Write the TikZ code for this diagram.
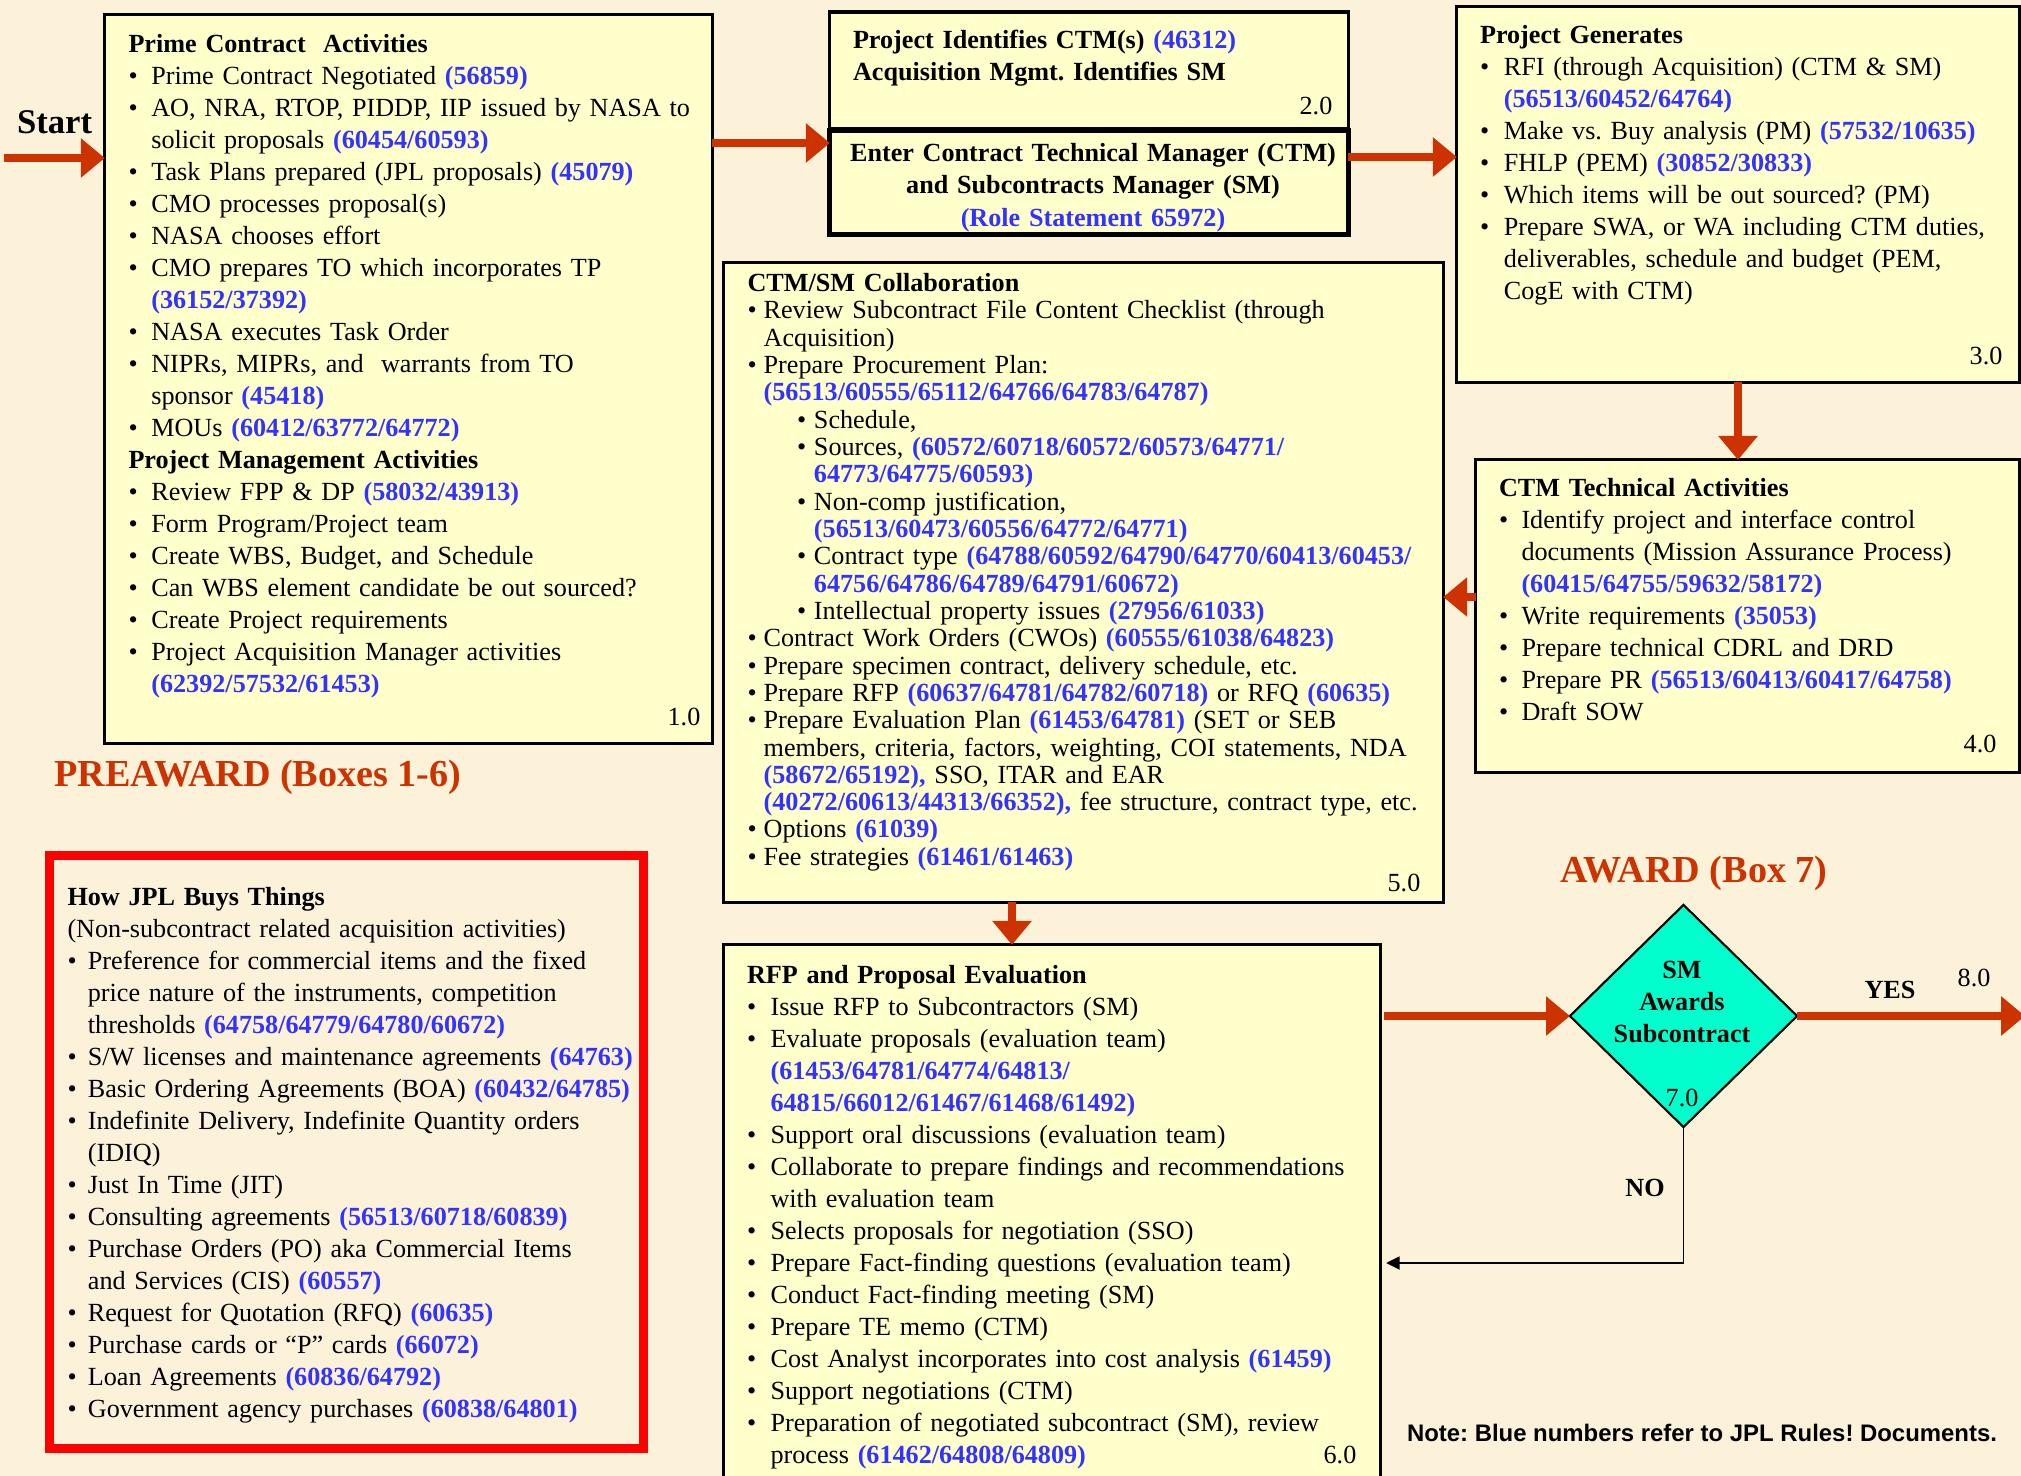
\documentclass[tikz,border=0pt]{standalone}
\usepackage{fontspec}
\setmainfont{Liberation Serif}
\newfontfamily\notefont{Liberation Sans}
\usetikzlibrary{arrows.meta,shapes.geometric}

\definecolor{bgcream}{RGB}{252,242,218}
\definecolor{boxyellow}{RGB}{255,255,204}
\definecolor{arrowred}{RGB}{204,51,0}
\definecolor{rblue}{RGB}{51,51,255}
\definecolor{aqua}{RGB}{0,255,204}

\frenchspacing
\newcommand{\bx}{\fontsize{7.44pt}{9.1pt}\selectfont}
\newcommand{\bxt}{\fontsize{7.44pt}{7.77pt}\selectfont}
\newcommand{\bigred}{\fontsize{10.85pt}{12pt}\selectfont\bfseries}
\newcommand{\rn}[1]{\textcolor{rblue}{\textbf{#1}}}
\newlength{\bulind}
\setlength{\bulind}{6.5pt}
\newcommand{\bul}{\par\hangindent=\bulind\hangafter=1\noindent\makebox[\bulind][l]{\textbullet}}
\newcommand{\subbul}{\par\hangindent=18.9pt\hangafter=1\noindent\hspace*{14.1pt}\makebox[4.8pt][l]{\textbullet}}

\begin{document}
\begin{tikzpicture}[x=0.01cm,y=-0.01cm,
  every node/.style={inner sep=0pt,outer sep=0pt},
  box/.style={draw=black,line width=0.9pt,fill=boxyellow},
  txt/.style={anchor=base west,text width=#1,align=left,font=\bx},
  num/.style={font=\bx},
  flow/.style={draw=arrowred,line width=2.3pt,-{Triangle[length=6.8pt,width=10.8pt]}},
  noflow/.style={draw=black,line width=0.5pt,-{Triangle[length=3.8pt,width=3.7pt]}}]
\useasboundingbox (0,0) rectangle (2021,1476);
\fill[bgcream] (0,0) rectangle (2021,1476);

\node[box,minimum width=6.07cm,minimum height=7.28cm] (box1) at (408.5,379) {};
\node[box,minimum width=5.18cm,minimum height=1.17cm] (box2) at (1089,70.5) {};
\node[box,line width=1.45pt,minimum width=5.18cm,minimum height=1.04cm] (box2b) at (1089,182.5) {};
\node[box,minimum width=5.62cm,minimum height=3.75cm] (box3) at (1738,194.5) {};
\node[box,minimum width=5.43cm,minimum height=3.12cm] (box4) at (1747.5,616) {};
\node[box,minimum width=7.19cm,minimum height=6.39cm] (box5) at (1083.5,582.5) {};
\node[box,minimum width=6.56cm,minimum height=5.45cm] (box6) at (1052,1217.5) {};
\node[draw=red,line width=2.56pt,minimum width=5.935cm,minimum height=5.92cm] (boxjpl) at (346.25,1152) {};
\node[diamond,draw=black,line width=0.6pt,fill=aqua,minimum width=2.27cm,minimum height=2.22cm] (dec7) at (1683.5,1016) {};

\node[txt=6.2cm] (t1) at (128.5,52.8) {\textbf{Prime Contract\ \ Activities}
\bul Prime Contract Negotiated \rn{(56859)}
\bul AO, NRA, RTOP, PIDDP, IIP issued by NASA to\newline solicit proposals \rn{(60454/60593)}
\bul Task Plans prepared (JPL proposals) \rn{(45079)}
\bul CMO processes proposal(s)
\bul NASA chooses effort
\bul CMO prepares TO which incorporates TP\newline\rn{(36152/37392)}
\bul NASA executes Task Order
\bul NIPRs, MIPRs, and\ \ warrants from TO\newline sponsor \rn{(45418)}
\bul MOUs \rn{(60412/63772/64772)}
\par\noindent\textbf{Project Management Activities}
\bul Review FPP \& DP \rn{(58032/43913)}
\bul Form Program/Project team
\bul Create WBS, Budget, and Schedule
\bul Can WBS element candidate be out sourced?
\bul Create Project requirements
\bul Project Acquisition Manager activities\newline\rn{(62392/57532/61453)}\par};
\node[num] (n1) at (684,717) {1.0};

\node[txt=5cm,font=\bx\bfseries] (t2) at (853,48.8) {Project Identifies CTM(s) \rn{(46312)}\newline Acquisition Mgmt. Identifies SM};
\node[num] (n2) at (1316,106) {2.0};
\node[anchor=base,text width=5.4cm,align=center,font=\bx\bfseries] (t2b) at (1093,162) {Enter Contract Technical Manager (CTM)\\and Subcontracts Manager (SM)\\\rn{(Role Statement 65972)}};

\node[txt=5.6cm] (t3) at (1480,43.8) {\setlength{\bulind}{6.8pt}\textbf{Project Generates}
\bul RFI (through Acquisition) (CTM \& SM)\newline\rn{(56513/60452/64764)}
\bul Make vs. Buy analysis (PM) \rn{(57532/10635)}
\bul FHLP (PEM) \rn{(30852/30833)}
\bul Which items will be out sourced? (PM)
\bul Prepare SWA, or WA including CTM duties,\newline deliverables, schedule and budget (PEM,\newline CogE with CTM)\par};
\node[num] (n3) at (1986,356) {3.0};

\node[txt=5.2cm] (t4) at (1499,496.8) {\setlength{\bulind}{6.4pt}\textbf{CTM Technical Activities}
\bul Identify project and interface control\newline documents (Mission Assurance Process)\newline\rn{(60415/64755/59632/58172)}
\bul Write requirements \rn{(35053)}
\bul Prepare technical CDRL and DRD
\bul Prepare PR \rn{(56513/60413/60417/64758)}
\bul Draft SOW\par};
\node[num] (n4) at (1980,744) {4.0};

\node[txt=7.2cm,font=\bxt] (t5) at (747.5,291.5) {\setlength{\bulind}{4.6pt}\textbf{CTM/SM Collaboration}
\bul Review Subcontract File Content Checklist (through\newline Acquisition)
\bul Prepare Procurement Plan:\newline\rn{(56513/60555/65112/64766/64783/64787)}
\subbul Schedule,
\subbul Sources, \rn{(60572/60718/60572/60573/64771/}\newline\rn{64773/64775/60593)}
\subbul Non-comp justification,\newline\rn{(56513/60473/60556/64772/64771)}
\subbul Contract type \rn{(64788/60592/64790/64770/60413/60453/}\newline\rn{64756/64786/64789/64791/60672)}
\subbul Intellectual property issues \rn{(27956/61033)}
\bul Contract Work Orders (CWOs) \rn{(60555/61038/64823)}
\bul Prepare specimen contract, delivery schedule, etc.
\bul Prepare RFP \rn{(60637/64781/64782/60718)} or RFQ \rn{(60635)}
\bul Prepare Evaluation Plan \rn{(61453/64781)} (SET or SEB\newline members, criteria, factors, weighting, COI statements, NDA\newline\rn{(58672/65192),} SSO, ITAR and EAR\newline\rn{(40272/60613/44313/66352),} fee structure, contract type, etc.
\bul Options \rn{(61039)}
\bul Fee strategies \rn{(61461/61463)}\par};
\node[num] (n5) at (1404,883) {5.0};

\node[txt=6.5cm] (t6) at (747,983.8) {\setlength{\bulind}{6.7pt}\textbf{RFP and Proposal Evaluation}
\bul Issue RFP to Subcontractors (SM)
\bul Evaluate proposals (evaluation team)\newline\rn{(61453/64781/64774/64813/}\newline\rn{64815/66012/61467/61468/61492)}
\bul Support oral discussions (evaluation team)
\bul Collaborate to prepare findings and recommendations\newline with evaluation team
\bul Selects proposals for negotiation (SSO)
\bul Prepare Fact-finding questions (evaluation team)
\bul Conduct Fact-finding meeting (SM)
\bul Prepare TE memo (CTM)
\bul Cost Analyst incorporates into cost analysis \rn{(61459)}
\bul Support negotiations (CTM)
\bul Preparation of negotiated subcontract (SM), review\newline process \rn{(61462/64808/64809)}\par};
\node[num] (n6) at (1340,1455) {6.0};

\node[txt=6.2cm] (tjpl) at (67.5,905.5) {\setlength{\bulind}{5.8pt}\textbf{How JPL Buys Things}
\par\noindent(Non-subcontract related acquisition activities)
\bul Preference for commercial items and the fixed\newline price nature of the instruments, competition\newline thresholds \rn{(64758/64779/64780/60672)}
\bul S/W licenses and maintenance agreements \rn{(64763)}
\bul Basic Ordering Agreements (BOA) \rn{(60432/64785)}
\bul Indefinite Delivery, Indefinite Quantity orders\newline (IDIQ)
\bul Just In Time (JIT)
\bul Consulting agreements \rn{(56513/60718/60839)}
\bul Purchase Orders (PO) aka Commercial Items\newline and Services (CIS) \rn{(60557)}
\bul Request for Quotation (RFQ) \rn{(60635)}
\bul Purchase cards or “P” cards \rn{(66072)}
\bul Loan Agreements \rn{(60836/64792)}
\bul Government agency purchases \rn{(60838/64801)}\par};

\node[anchor=base,text width=2cm,align=center,font=\bx\bfseries] (t7) at (1682,978.8) {SM\\Awards\\Subcontract};
\node[num] (n7) at (1682,1098) {7.0};

\node[font=\fontsize{9.85pt}{12pt}\selectfont\bfseries] (start) at (54.6,122) {Start};
\node[font=\bigred,text=arrowred] (preaward) at (258,777) {PREAWARD (Boxes 1-6)};
\node[font=\bigred,text=arrowred] (award) at (1694,873) {AWARD (Box 7)};
\node[font=\bx\bfseries] (yes) at (1890,990) {YES};
\node[num] (n8) at (1974,978) {8.0};
\node[font=\bx\bfseries] (no) at (1645,1188) {NO};
\node[font=\notefont\bfseries\fontsize{6.8pt}{8pt}\selectfont] (note) at (1702,1433) {Note: Blue numbers refer to JPL Rules! Documents.};

\coordinate (startpt) at (4,158);
\coordinate (a1) at (0,143);
\coordinate (a2) at (0,157);
\coordinate (a4) at (0,597);
\coordinate (a5) at (1012,0);
\coordinate (a6) at (0,1263);
\coordinate (yesend) at (2025,1016);

\draw[flow] (startpt) -- (startpt -| box1.west);
\draw[flow] (box1.east |- a1) -- (box2b.west |- a1);
\draw[flow] (box2b.east |- a2) -- (box3.west |- a2);
\draw[flow] (box3.south) -- (box3.south |- box4.north);
\draw[flow] (box4.west |- a4) -- (box5.east |- a4);
\draw[flow] (a5 |- box5.south) -- (a5 |- box6.north);
\draw[flow,shorten <=1.2pt] (box6.east |- dec7.west) -- (dec7.west);
\draw[flow] (dec7.east) -- (yesend);
\draw[noflow,shorten >=1.7pt] (dec7.south) |- (box6.east |- a6);
\end{tikzpicture}
\end{document}
